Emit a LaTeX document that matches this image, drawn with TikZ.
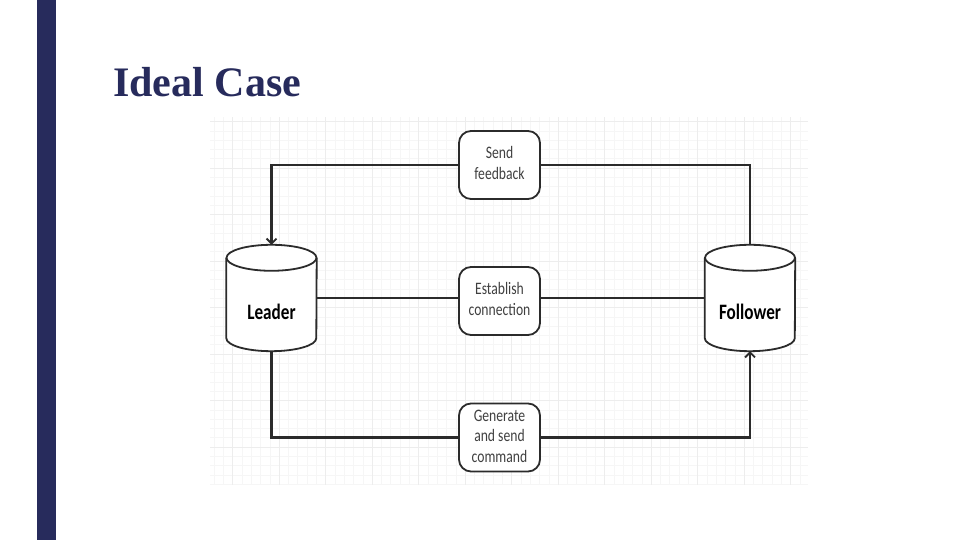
\documentclass[tikz,border=0pt]{standalone}
\usepackage{fontspec}
\setmainfont{Liberation Serif}
\newfontfamily\diafont{Carlito}
\usetikzlibrary{arrows.meta,calc}
\definecolor{navy}{HTML}{272B5C}
\definecolor{ink}{HTML}{2B2B2B}
\newcommand\sq[1]{\scalebox{0.78}[1]{\begin{tabular}{@{}c@{}}#1\end{tabular}}}
\newcommand\drawcyl[1]{%
  \draw[ink, line width=1.8pt, fill=white] ($(#1.north west)+(0,-13)$) -- ($(#1.south west)+(0,13)$)
     arc[start angle=180,end angle=360,x radius=45,y radius=13] -- ($(#1.north east)+(0,-13)$);
  \draw[ink, line width=1.8pt, fill=white] ($(#1.north)+(0,-13)$) ellipse[x radius=45, y radius=13];}
\tikzset{
  cylbody/.style={minimum width=90pt, minimum height=106pt, inner sep=0pt},
  cyltext/.style={font=\diafont\bfseries\fontsize{22}{26}\selectfont, text=black},
  stepbox/.style={draw=ink, line width=1.8pt, rounded corners=12pt, fill=white,
     minimum width=81pt, minimum height=68pt, inner sep=0pt,
     font=\diafont\fontsize{17.5}{20.5}\selectfont, text=ink!90},
  conn/.style={draw=ink, line width=2.4pt},
  barb/.style={-{Straight Barb[length=5pt,width=10pt,line width=1.8pt]}},
}
\begin{document}
\begin{tikzpicture}[x=1pt,y=1pt]
\useasboundingbox (0,0) rectangle (960,540);
\fill[white] (0,0) rectangle (960,540);
\fill[navy] (37,0) rectangle (56,540);
\node[anchor=base west, inner sep=0pt, text=navy, font=\bfseries\fontsize{42}{48}\selectfont] (title) at (113,443) {Ideal Case};
% grid
\draw[gray!7, line width=0.4pt, step=9.3] (210,55) grid (808,423);
\draw[gray!14, line width=0.5pt, step=46.5] (210,55) grid (808,423);
% cylinders
\node[cylbody] (L) at (271.5,242) {};
\node[cylbody] (F) at (750,242) {};
\drawcyl{L}
\drawcyl{F}
\node[cyltext] (Lt) at ($(L)+(0,-14)$) {\scalebox{0.78}[1]{Leader}};
\node[cyltext] (Ft) at ($(F)+(0,-14)$) {\scalebox{0.78}[1]{Follower}};
% boxes
\node[stepbox] (sf) at (499.5,375) {\sq{Send\\feedback}};
\node[stepbox] (ec) at (499.5,239) {\sq{Establish\\connection}};
\node[stepbox] (gc) at (499.5,102.5) {\sq{Generate\\and send\\command}};
% connectors
\draw[conn, barb] (sf.west) -| (L.north);
\draw[conn] (F.north) |- (sf.east);
\draw[conn] (L.east) -- (L.east -| ec.west);
\draw[conn] (ec.east |- F.west) -- (F.west);
\draw[conn] (L.south) |- (gc.west);
\draw[conn, barb] (gc.east) -| (F.south);
\end{tikzpicture}
\end{document}
